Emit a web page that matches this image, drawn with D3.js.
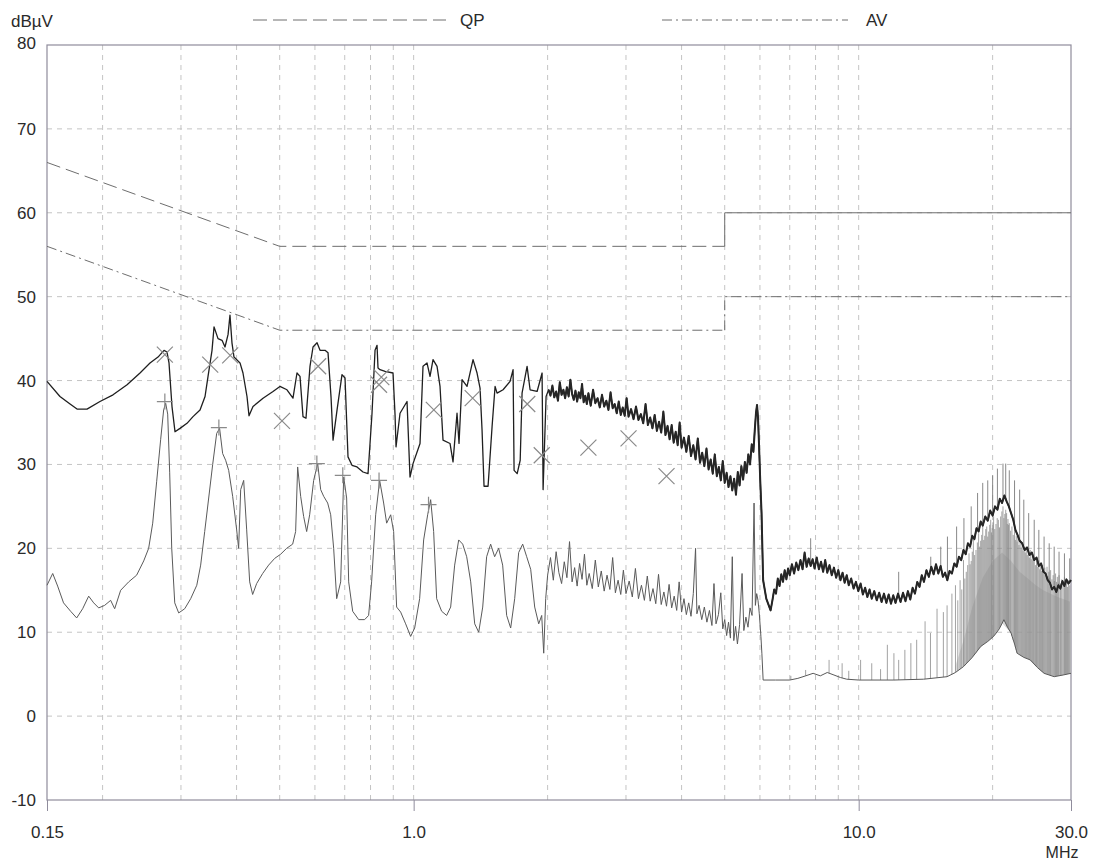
<!DOCTYPE html>
<html>
<head>
<meta charset="utf-8">
<script src="https://cdn.jsdelivr.net/npm/d3@7"></script>
<style>
  html, body { margin: 0; padding: 0; background: #fff; }
  svg { display: block; font-family: "Liberation Sans", Arial, sans-serif; }
</style>
</head>
<body>
<svg id="chart" width="1101" height="864"></svg>
<script>
// ---- axis ticks ----
const xTickValues = [0.15, 1, 10, 30];
const xTickLabels = ["0.15", "1.0", "10.0", "30.0"];
const yTickValues = [-10, 0, 10, 20, 30, 40, 50, 60, 70, 80];
const gridFreqs = [0.2, 0.3, 0.4, 0.5, 0.6, 0.7, 0.8, 0.9, 1, 2, 3, 4, 5, 6, 7, 8, 9, 10, 20];

// ---- limit lines (MHz, dBµV) ----
const qpLimitLow = [[0.15, 66], [0.5, 56], [5, 56]];
const qpLimitHigh = [[5, 56], [5, 60], [30, 60]];
const avLimitLow = [[0.15, 56], [0.5, 46], [5, 46]];
const avLimitHigh = [[5, 46], [5, 50], [30, 50]];

// ---- peak scan (MHz, dBµV) ----
const peakScan = [
  [0.150,39.9],[0.1604,38.1],[0.1690,37.2],[0.1752,36.6],[0.1845,36.6],[0.1973,37.5],[0.2111,38.3],
  [0.2270,39.5],[0.2427,40.9],[0.2556,42.1],[0.2664,42.8],[0.2748,43.6],[0.2791,43.4],[0.2820,42.1],
  [0.2864,36.9],[0.2909,33.9],[0.2985,34.3],[0.3095,34.9],[0.3193,35.7],[0.3311,36.5],[0.3398,38.1],
  [0.3451,40.5],[0.3523,43.6],[0.3560,46.4],[0.3634,45.0],[0.3710,44.8],[0.3768,44.0],[0.3828,45.5],
  [0.3866,47.8],[0.3906,44.5],[0.3947,42.8],[0.4072,42.1],[0.4135,40.9],[0.4222,38.1],[0.4266,35.8],
  [0.4355,36.9],[0.4587,37.9],[0.4830,38.7],[0.5006,39.3],[0.5192,38.9],[0.5356,37.9],[0.5468,40.9],
  [0.5554,40.5],[0.5641,35.7],[0.5729,35.5],[0.5849,41.7],[0.5941,44.0],[0.6066,44.5],[0.6161,43.6],
  [0.6322,43.6],[0.6421,43.3],[0.6522,38.0],[0.6590,32.9],[0.6728,36.5],[0.6902,40.7],[0.7011,40.3],
  [0.7120,30.9],[0.7270,29.9],[0.7459,29.7],[0.7695,29.1],[0.7897,28.9],[0.8062,36.1],[0.8189,43.6],
  [0.8274,44.2],[0.8316,41.5],[0.8403,41.3],[0.8625,41.1],[0.8987,40.9],[0.9081,36.0],[0.9128,32.1],
  [0.9319,36.1],[0.9663,37.5],[0.9813,28.5],[0.9968,30.1],[1.0335,32.5],[1.0496,41.7],[1.0715,42.1],
  [1.0884,40.5],[1.1054,42.5],[1.1286,41.7],[1.1462,39.3],[1.1641,32.9],[1.2070,32.5],[1.2259,30.3],
  [1.2516,36.1],[1.2646,32.5],[1.2844,40.1],[1.3181,39.3],[1.3597,42.5],[1.3882,40.9],[1.4099,39.1],
  [1.4246,34.1],[1.4394,27.4],[1.4696,27.4],[1.5004,34.5],[1.5239,39.3],[1.5397,38.5],[1.5883,38.9],
  [1.6469,39.9],[1.6727,41.3],[1.6814,29.3],[1.7086,28.9],[1.7354,30.5],[1.7523,38.5],[1.7984,41.7],
  [1.8266,38.9],[1.8940,38.7],[1.9436,40.9],[1.9537,27.0],[1.9842,38.1],
  [2.01,38.9],[2.03,38.2],[2.05,39.4],[2.07,38.0],[2.09,38.7],[2.11,37.6],[2.13,39.8],[2.15,38.3],
  [2.17,38.9],[2.19,37.9],[2.21,39.2],[2.23,38.1],[2.25,40.1],[2.27,38.4],[2.29,37.7],[2.31,38.8],
  [2.33,37.5],[2.35,38.6],[2.37,37.9],[2.39,39.6],[2.41,37.4],[2.43,38.2],[2.45,37.2],[2.47,38.5],
  [2.50,37.0],[2.53,38.9],[2.56,37.3],[2.59,37.9],[2.62,36.8],[2.65,38.3],[2.68,36.9],[2.71,37.6],
  [2.74,36.5],[2.77,38.6],[2.80,36.7],[2.83,37.2],[2.86,36.1],[2.89,37.5],[2.92,35.9],[2.95,36.8],
  [2.98,35.8],[3.01,37.9],[3.04,35.7],[3.08,36.6],[3.12,35.4],[3.16,36.9],[3.20,35.3],[3.24,36.0],
  [3.28,34.9],[3.32,37.2],[3.36,34.7],[3.40,35.6],[3.44,34.3],[3.48,35.9],[3.52,34.0],[3.56,35.1],
  [3.60,33.8],[3.64,36.3],[3.68,33.5],[3.72,34.6],[3.76,33.0],[3.80,34.7],[3.84,32.6],[3.88,33.9],
  [3.92,32.3],[3.96,35.0],[4.00,32.0],[4.05,33.2],[4.10,31.5],[4.15,33.4],[4.20,31.0],[4.25,32.3],
  [4.30,30.6],[4.35,33.1],[4.40,30.2],[4.45,31.4],[4.50,29.8],[4.55,31.9],[4.60,29.4],[4.65,30.6],
  [4.70,28.9],[4.75,31.2],[4.80,28.6],[4.85,29.7],[4.90,28.1],[4.95,30.4],[5.00,27.8],[5.05,29.0],
  [5.10,27.3],[5.15,28.6],[5.20,26.9],[5.25,28.3],[5.30,26.4],[5.35,29.1],[5.40,27.5],[5.45,29.8],
  [5.50,28.2],[5.55,30.3],[5.60,29.0],[5.65,31.2],[5.70,30.0],[5.75,32.4],[5.80,31.5],[5.84,34.0],
  [5.88,36.2],[5.91,37.1],[5.94,35.6],[5.97,32.5],[6.01,28.0],[6.05,24.2],[6.10,16.2],[6.20,14.0],
  [6.34,12.6],[6.40,13.8],[6.46,15.1],[6.52,14.6],[6.58,16.4],[6.64,15.5],[6.70,16.9],[6.76,16.0],
  [6.82,17.4],[6.88,16.3],[6.94,17.6],[7.00,16.8],[7.08,18.1],[7.16,17.0],[7.24,18.3],[7.32,17.4],
  [7.40,18.6],[7.48,17.5],[7.56,19.5],[7.64,17.8],[7.72,18.8],[7.80,17.9],[7.88,18.7],[7.96,17.6],
  [8.05,18.9],[8.14,17.5],[8.23,18.4],[8.32,17.2],[8.41,18.6],[8.50,17.1],[8.60,18.0],[8.70,16.8],
  [8.80,17.7],[8.90,16.5],[9.00,17.4],[9.10,16.2],[9.20,17.1],[9.30,15.9],[9.40,16.8],[9.50,15.6],
  [9.62,16.4],[9.74,15.2],[9.86,16.0],[9.98,14.9],[10.10,15.8],[10.22,14.5],[10.34,15.3],[10.46,14.2],
  [10.58,15.1],[10.70,14.0],[10.84,14.9],[10.98,13.8],[11.12,14.7],[11.26,13.6],[11.40,14.6],[11.54,13.5],
  [11.68,14.5],[11.82,13.4],[11.96,14.4],[12.10,13.5],[12.26,14.6],[12.42,13.6],[12.58,14.7],[12.74,13.7],
  [12.90,14.9],[13.06,13.9],[13.22,15.3],[13.38,14.6],[13.54,16.0],[13.70,15.4],[13.86,16.8],[14.02,16.0],
  [14.20,17.4],[14.38,16.6],[14.56,17.8],[14.74,16.9],[14.92,18.1],[15.10,17.0],[15.28,17.9],[15.46,16.6],
  [15.64,17.1],[15.82,16.2],[16.00,17.3],[16.20,17.0],[16.40,18.2],[16.60,17.8],[16.80,19.0],[17.00,18.6],
  [17.20,19.8],[17.40,19.3],[17.60,20.6],[17.80,20.2],[18.00,21.5],[18.20,21.1],[18.40,22.4],[18.60,22.0],
  [18.80,23.2],[19.00,22.7],[19.25,23.8],[19.50,23.3],[19.75,24.5],[20.00,23.9],[20.25,25.0],[20.50,24.6],
  [20.75,25.9],[21.00,25.4],[21.25,26.3],[21.50,25.6],[21.75,25.0],[22.00,24.2],[22.25,23.4],[22.50,22.2],
  [22.75,21.6],[23.00,20.9],[23.30,20.6],[23.60,19.8],[23.90,20.1],[24.20,19.2],[24.50,19.5],[24.80,18.6],
  [25.10,18.9],[25.40,17.9],[25.70,18.2],[26.00,17.2],[26.30,17.0],[26.60,16.2],[26.90,15.9],[27.20,15.1],
  [27.50,15.4],[27.80,14.8],[28.10,15.6],[28.40,15.2],[28.70,16.1],[29.00,15.5],[29.30,16.3],[29.60,15.8],
  [30.00,16.2]
];

// ---- average scan (MHz, dBµV) ----
const avgScan = [
  [0.150,15.6],[0.1545,17.0],[0.1585,15.5],[0.1634,13.5],[0.1695,12.5],[0.1749,11.7],[0.1804,12.8],
  [0.1861,14.3],[0.1910,13.5],[0.1960,12.9],[0.2021,13.2],[0.2085,13.8],[0.2129,12.8],[0.2196,15.0],
  [0.2289,16.0],[0.2385,16.8],[0.2474,18.5],[0.2538,20.0],[0.2592,23.0],[0.2646,28.0],[0.2701,33.0],
  [0.2743,36.5],[0.2772,37.3],[0.2801,36.0],[0.2830,29.0],[0.2860,20.0],[0.2905,13.5],[0.2965,12.3],
  [0.3059,12.8],[0.3155,14.0],[0.3256,15.6],[0.3322,18.0],[0.3392,22.0],[0.3463,26.0],[0.3535,30.0],
  [0.3609,33.7],[0.3664,34.3],[0.3722,31.3],[0.3780,30.5],[0.3840,29.3],[0.3920,26.2],[0.4002,22.2],
  [0.4043,20.0],[0.4086,27.0],[0.4150,28.1],[0.4215,22.2],[0.4281,16.0],[0.4347,14.5],[0.4438,15.8],
  [0.4578,17.0],[0.4722,18.0],[0.4872,18.8],[0.5025,19.3],[0.5183,20.0],[0.5347,20.5],[0.5430,22.0],
  [0.5487,29.7],[0.5573,26.2],[0.5660,23.8],[0.5749,22.0],[0.5839,24.0],[0.5961,28.1],[0.6086,30.1],
  [0.6181,27.0],[0.6278,26.2],[0.6409,25.4],[0.6510,24.0],[0.6611,20.0],[0.6715,14.0],[0.6855,16.0],
  [0.6963,28.5],[0.7070,26.0],[0.7145,16.0],[0.7294,12.5],[0.7524,11.5],[0.7759,11.5],[0.7921,12.0],
  [0.8045,16.0],[0.8216,24.0],[0.8387,28.1],[0.8562,25.4],[0.8696,23.0],[0.8879,24.0],[0.9017,22.0],
  [0.9157,13.0],[0.9350,12.4],[0.9594,11.0],[0.9846,9.5],[1.0052,10.5],[1.0315,14.0],[1.0531,21.0],
  [1.0752,24.0],[1.0920,25.8],[1.1090,22.0],[1.1264,14.0],[1.1559,12.5],[1.1862,12.0],[1.2111,13.0],
  [1.2364,18.0],[1.2624,21.0],[1.2888,20.5],[1.3158,19.0],[1.3434,16.0],[1.3715,11.0],[1.4002,10.0],
  [1.4295,13.0],[1.4588,19.0],[1.4894,20.5],[1.5205,19.0],[1.5524,20.0],[1.5849,18.0],[1.6181,12.0],
  [1.6520,10.5],[1.6866,14.0],[1.7219,19.5],[1.7579,20.5],[1.7948,19.0],[1.8323,17.5],[1.8707,13.0],
  [1.9099,11.0],[1.9398,12.0],[1.9600,7.5],[1.9802,14.0],
  [2.00,16.8],[2.03,18.9],[2.06,16.2],[2.09,19.6],[2.12,17.1],[2.15,15.8],[2.18,18.4],[2.21,16.5],
  [2.24,20.8],[2.27,16.0],[2.30,17.7],[2.33,15.5],[2.36,18.2],[2.39,16.3],[2.42,19.3],[2.45,15.6],
  [2.48,17.0],[2.52,15.2],[2.56,18.6],[2.60,15.4],[2.64,17.3],[2.68,14.9],[2.72,16.8],[2.76,15.1],
  [2.80,18.9],[2.84,14.7],[2.88,16.2],[2.92,14.5],[2.96,17.4],[3.00,14.6],[3.05,16.1],[3.10,14.2],
  [3.15,17.6],[3.20,14.0],[3.25,15.6],[3.30,13.8],[3.35,16.7],[3.40,13.7],[3.45,15.2],[3.50,13.4],
  [3.55,16.9],[3.60,13.3],[3.65,14.8],[3.70,13.1],[3.75,15.7],[3.80,12.9],[3.85,14.3],[3.90,12.6],
  [3.95,16.0],[4.00,12.4],[4.05,14.0],[4.10,12.1],[4.15,13.5],[4.20,11.9],[4.25,14.6],[4.30,20.0],
  [4.33,12.2],[4.38,13.2],[4.44,11.5],[4.50,13.0],[4.56,11.2],[4.62,12.6],[4.68,10.8],[4.73,15.8],
  [4.78,11.0],[4.84,12.1],[4.90,14.7],[4.95,10.4],[5.00,11.5],[5.05,9.6],[5.10,11.2],[5.15,9.3],
  [5.20,19.0],[5.24,9.0],[5.29,10.7],[5.34,8.6],[5.40,10.9],[5.47,17.0],[5.52,10.2],[5.58,11.8],
  [5.64,10.6],[5.70,12.9],[5.76,12.0],[5.82,25.4],[5.86,13.2],[5.90,14.6],[5.94,13.8],[5.98,12.2],
  [6.03,9.5],[6.06,7.5],[6.10,4.3],
  [6.50,4.3],[7.00,4.3],[7.30,4.5],[7.60,4.8],[7.90,5.1],[8.20,4.8],[8.50,5.2],[8.80,4.9],[9.10,4.6],
  [9.40,4.4],[10.0,4.3],[12.0,4.3],[14.0,4.4],[15.8,4.7],[16.5,5.2],[17.2,5.9],[18.0,7.0],[18.8,8.3],
  [19.5,8.9],[20.1,9.5],[20.7,10.4],[21.2,11.5],[21.6,10.6],[22.0,9.9],[22.4,8.6],[22.7,7.5],[23.5,7.0],
  [24.3,6.7],[25.2,5.8],[26.1,5.1],[27.5,4.7],[28.8,4.9],[30.0,5.1]
];

// ---- dense comb zone above the average scan (MHz, upper edge dBµV) ----
const avgCombBand = [
  [16.5,6.0],[17.2,9.0],[18.0,13.0],[19.0,16.5],[20.0,18.5],[21.0,19.5],[22.0,18.5],[23.0,17.2],
  [24.0,16.4],[25.0,15.6],[26.0,15.0],[27.0,14.6],[28.0,14.2],[29.0,13.9],[30.0,13.6]
];

// ---- comb lines rising above each scan (MHz, top dBµV) ----
const avgComb = [
  [7.04,4.8],[7.6,5.5],[8.58,6.7],[9.18,6.3],[9.5,5.4],[10.1,6.7],[10.7,6.3],[11.2,5.6],[11.6,8.5],
  [12.0,7.5],[12.3,6.7],[12.7,7.9],[13.1,8.7],[13.5,9.1],[14.1,11.3],[14.5,9.9],[15.0,12.8],[15.5,12.4],
  [15.8,13.2],[16.2,14.6],[16.5,15.6],[16.7,13.8],[16.9,16.2],[17.05,15.1],[17.2,18.6],[17.32,16.4],
  [17.45,17.2],[17.58,18.0],[17.7,19.4],[17.8,18.1],[17.9,18.5],[18.0,19.6],[18.1,21.0],[18.22,19.2],
  [18.35,19.8],[18.48,20.7],[18.6,21.8],[18.7,20.2],[18.8,20.9],[18.9,21.6],[19.0,22.6],[19.1,21.0],
  [19.2,21.5],[19.3,22.3],[19.4,22.6],[19.5,21.4],[19.6,22.0],[19.7,22.8],[19.8,23.4],[19.88,21.9],
  [19.95,22.4],[20.03,23.1],[20.1,23.8],[20.22,22.3],[20.35,22.9],[20.48,23.6],[20.6,23.4],[20.72,22.5],
  [20.85,23.8],[20.98,24.4],[21.1,25.0],[21.2,23.6],[21.3,24.1],[21.4,24.6],[21.5,24.2],[21.58,22.9],
  [21.65,23.5],[21.72,22.8],[21.8,23.0],[21.95,22.1],[22.1,22.6],[22.25,21.6],[22.4,22.2],[22.5,21.0],
  [22.6,21.5],[22.7,20.8],[22.8,21.4],[22.92,20.4],[23.05,21.0],[23.18,20.1],[23.3,20.6],[23.42,19.7],
  [23.55,20.1],[23.68,19.5],[23.8,20.2],[23.92,19.2],[24.05,19.6],[24.18,18.9],[24.3,19.8],[24.42,18.7],
  [24.55,19.2],[24.68,18.5],[24.8,19.0],[24.95,18.0],[25.1,18.5],[25.25,17.8],[25.4,18.6],[25.52,17.5],
  [25.65,18.2],[25.78,17.3],[25.9,18.0],[26.05,17.1],[26.2,17.7],[26.35,16.9],[26.5,17.8],[26.62,16.7],
  [26.75,17.2],[26.88,16.5],[27.0,17.4],[27.18,16.3],[27.35,16.8],[27.52,16.1],[27.7,17.0],[27.82,16.0],
  [27.95,16.6],[28.08,15.9],[28.2,16.8],[28.4,15.8],[28.6,16.3],[28.8,15.6],[29.0,16.6],[29.15,15.5],
  [29.3,16.0],[29.45,15.4],[29.6,16.2],[29.8,15.6]
];
const peakComb = [
  [7.80,21.2],[12.3,17.2],[14.52,19.0],[15.29,20.2],[15.83,21.4],[16.6,22.6],[17.24,23.6],[17.9,25.0],
  [18.5,26.6],[19.0,27.8],[19.5,28.1],[20.0,28.7],[20.5,29.5],[21.1,30.1],[21.4,30.1],[21.8,29.3],
  [22.4,28.1],[23.0,27.0],[23.5,25.8],[24.1,24.2],[24.8,23.4],[25.4,22.2],[26.1,21.4],[26.8,20.6],
  [27.5,20.2],[28.2,19.6],[29.0,19.4],[29.8,18.8]
];

// ---- final measurements (MHz, dBµV) ----
const qpMarks = [
  [0.276,43.1],[0.349,41.9],[0.387,43.0],[0.506,35.2],[0.610,41.7],[0.836,39.5],[0.846,40.4],
  [1.11,36.5],[1.357,37.9],[1.80,37.2],[1.94,31.1],[2.47,32.0],[3.04,33.1],[3.70,28.6]
];
const avMarks = [
  [0.276,37.5],[0.365,34.4],[0.606,30.1],[0.693,28.7],[0.836,28.1],[1.08,25.2]
];

// ---- layout ----
const svg = d3.select("#chart");
const plotLeft = 47, plotRight = 1071, plotTop = 45, plotBottom = 800;
const x = d3.scaleLog().domain([0.15, 30]).range([plotLeft, plotRight]);
const y = d3.scaleLinear().domain([-10, 80]).range([plotBottom, plotTop]);

const gridColor = "#c4c4c4";
const frameColor = "#8f8c9c";
const textColor = "#2a2a2a";
const fontFamily = "Liberation Sans, Arial, sans-serif";

// grid
svg.append("g").selectAll("line").data(gridFreqs).join("line")
  .attr("x1", d => x(d)).attr("x2", d => x(d))
  .attr("y1", plotTop).attr("y2", plotBottom)
  .attr("stroke", gridColor).attr("stroke-width", 1).attr("stroke-dasharray", "5,5");
svg.append("g").selectAll("line").data(yTickValues.filter(v => v > -10 && v < 80)).join("line")
  .attr("x1", plotLeft).attr("x2", plotRight)
  .attr("y1", d => y(d)).attr("y2", d => y(d))
  .attr("stroke", gridColor).attr("stroke-width", 1).attr("stroke-dasharray", "5,5");

// axes
const xAxis = d3.axisBottom(x).tickValues(xTickValues)
  .tickFormat((d, i) => xTickLabels[i]).tickSize(11).tickSizeOuter(0).tickPadding(15);
const gx = svg.append("g").attr("transform", `translate(0,${plotBottom})`).call(xAxis);
gx.select(".domain").remove();
gx.selectAll(".tick line").attr("stroke", frameColor);
gx.selectAll(".tick text").attr("font-size", 17).attr("fill", textColor).attr("font-family", fontFamily);

const yAxis = d3.axisLeft(y).tickValues(yTickValues).tickFormat(d => String(d))
  .tickSize(0).tickPadding(11);
const gy = svg.append("g").attr("transform", `translate(${plotLeft},0)`).call(yAxis);
gy.select(".domain").remove();
gy.selectAll(".tick text").attr("font-size", 17).attr("fill", textColor).attr("font-family", fontFamily)
  .attr("dy", d => d === 80 ? "0.18em" : "0.32em");

// frame
svg.append("rect").attr("x", plotLeft).attr("y", plotTop)
  .attr("width", plotRight - plotLeft).attr("height", plotBottom - plotTop)
  .attr("fill", "none").attr("stroke", frameColor).attr("stroke-width", 1.2);

// unit labels
svg.append("text").attr("x", 11).attr("y", 27).attr("font-size", 17).attr("fill", textColor).text("dBµV");
svg.append("text").attr("x", 1062).attr("y", 858).attr("text-anchor", "middle")
  .attr("font-size", 16).attr("fill", textColor).text("MHz");

// limit lines
const line = d3.line().x(d => x(d[0])).y(d => y(d[1]));
const limitColor = "#6e6e6e";
svg.append("path").datum(qpLimitLow).attr("d", line).attr("fill", "none")
  .attr("stroke", limitColor).attr("stroke-width", 1).attr("stroke-dasharray", "14,6");
svg.append("path").datum(qpLimitHigh).attr("d", line).attr("fill", "none")
  .attr("stroke", limitColor).attr("stroke-width", 1);
svg.append("path").datum(avLimitLow).attr("d", line).attr("fill", "none")
  .attr("stroke", limitColor).attr("stroke-width", 1).attr("stroke-dasharray", "10,4,2,4");
svg.append("path").datum(avLimitHigh).attr("d", line).attr("fill", "none")
  .attr("stroke", limitColor).attr("stroke-width", 1).attr("stroke-dasharray", "10,4,2,4");

// legend
const legend = svg.append("g");
legend.append("line").attr("x1", 253).attr("x2", 446).attr("y1", 20).attr("y2", 20)
  .attr("stroke", limitColor).attr("stroke-dasharray", "14,6");
legend.append("text").attr("x", 460).attr("y", 26).attr("font-size", 17).attr("fill", textColor).text("QP");
legend.append("line").attr("x1", 662).attr("x2", 848).attr("y1", 20).attr("y2", 20)
  .attr("stroke", limitColor).attr("stroke-dasharray", "10,4,2,4");
legend.append("text").attr("x", 866).attr("y", 26).attr("font-size", 17).attr("fill", textColor).text("AV");

// level of a scan at a frequency, used as the foot of a comb line
function levelAt(scan, f) {
  const i = d3.bisector(d => d[0]).left(scan, f);
  if (i <= 0) return scan[0][1];
  if (i >= scan.length) return scan[scan.length - 1][1];
  const a = scan[i - 1], b = scan[i];
  const t = (Math.log(f) - Math.log(a[0])) / (Math.log(b[0]) - Math.log(a[0]));
  return a[1] + t * (b[1] - a[1]);
}

const plot = svg.append("g");

// dense comb zone of the average scan
const combArea = d3.area()
  .x(d => x(d[0]))
  .y0(d => y(levelAt(avgScan, d[0])))
  .y1(d => y(d[1]));
plot.append("path").datum(avgCombBand).attr("d", combArea)
  .attr("fill", "#bdbdbd").attr("opacity", 0.55);

// comb lines of the average scan
plot.append("g").selectAll("line").data(avgComb).join("line")
  .attr("x1", d => x(d[0])).attr("x2", d => x(d[0]))
  .attr("y1", d => y(levelAt(avgScan, d[0]))).attr("y2", d => y(d[1]))
  .attr("stroke", "#8a8a8a").attr("stroke-width", 0.8);

// average scan
plot.append("path").datum(avgScan).attr("d", line).attr("fill", "none")
  .attr("stroke", "#5a5a5a").attr("stroke-width", 1).attr("stroke-linejoin", "round");

// comb lines of the peak scan
plot.append("g").selectAll("line").data(peakComb).join("line")
  .attr("x1", d => x(d[0])).attr("x2", d => x(d[0]))
  .attr("y1", d => y(levelAt(peakScan, d[0]))).attr("y2", d => y(d[1]))
  .attr("stroke", "#7a7a7a").attr("stroke-width", 0.9);

// peak scan; the dense noise above 2 MHz is drawn a little heavier
plot.append("path").datum(peakScan).attr("d", line).attr("fill", "none")
  .attr("stroke", "#1f1f1f").attr("stroke-width", 1.3).attr("stroke-linejoin", "round");
plot.append("path").datum(peakScan.filter(d => d[0] >= 2)).attr("d", line).attr("fill", "none")
  .attr("stroke", "#262626").attr("stroke-width", 2).attr("stroke-linejoin", "round");

// QP results (crosses) and AV results (plus signs)
const markColor = "#8a8a8a";
const s = 8;
plot.append("g").selectAll("path").data(qpMarks).join("path")
  .attr("d", d => {
    const cx = x(d[0]), cy = y(d[1]);
    return `M${cx - s},${cy - s}L${cx + s},${cy + s}M${cx - s},${cy + s}L${cx + s},${cy - s}`;
  })
  .attr("stroke", markColor).attr("stroke-width", 1.2).attr("fill", "none");
plot.append("g").selectAll("path").data(avMarks).join("path")
  .attr("d", d => {
    const cx = x(d[0]), cy = y(d[1]);
    return `M${cx - s},${cy}L${cx + s},${cy}M${cx},${cy - s}L${cx},${cy + s}`;
  })
  .attr("stroke", markColor).attr("stroke-width", 1.2).attr("fill", "none");
</script>
</body>
</html>
